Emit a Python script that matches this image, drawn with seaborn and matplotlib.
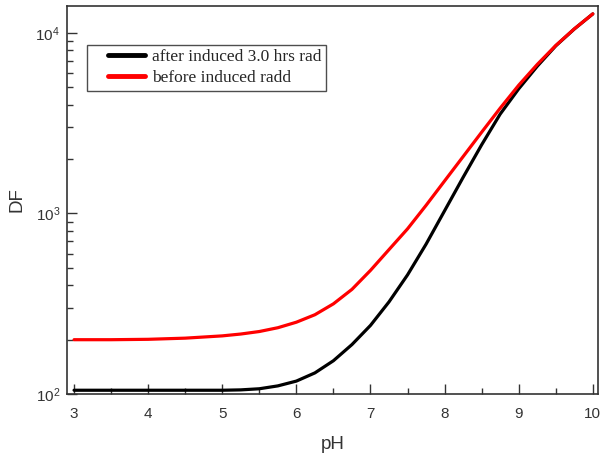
import numpy as np
import pandas as pd
import matplotlib
matplotlib.use("Agg")
import matplotlib.pyplot as plt
import seaborn as sns
from matplotlib.ticker import LogLocator, MultipleLocator, LogFormatterMathtext
from matplotlib.legend_handler import HandlerLine2D

ph = [3.0, 3.5, 4.0, 4.5, 5.0, 5.25, 5.5, 5.75, 6.0, 6.25, 6.5, 6.75, 7.0, 7.25,
      7.5, 7.75, 8.0, 8.25, 8.5, 8.75, 9.0, 9.25, 9.5, 9.75, 10.0]
df_after = [105, 105, 105, 105, 105, 105.5, 107, 111, 118, 131, 153, 188, 240, 324,
            457, 676, 1035, 1585, 2400, 3550, 4898, 6531, 8472, 10500, 12735]
df_before = [200, 200, 201, 204, 210, 215, 222, 233, 250, 275, 316, 380, 484, 631,
             822, 1109, 1514, 2065, 2818, 3828, 5129, 6683, 8511, 10520, 12735]
series_names = ["after induced 3.0 hrs rad", "before induced radd"]
series_colors = ["#000000", "#ff0000"]

data = pd.DataFrame({
    "pH": ph + ph,
    "DF": df_after + df_before,
    "series": [series_names[0]] * len(ph) + [series_names[1]] * len(ph),
})

sns.set_style("ticks")
plt.rcParams["font.family"] = ["Liberation Sans", "DejaVu Sans"]

fig = plt.figure(figsize=(6.01, 4.54), dpi=100)
ax = fig.add_axes([0.1115, 0.132, 0.8835, 0.855])

sns.lineplot(data=data, x="pH", y="DF", hue="series",
             palette=dict(zip(series_names, series_colors)),
             linewidth=2.3, ax=ax, legend=True)

ax.set_yscale("log")
ax.set_xlim(2.905, 10.07)
ax.set_ylim(100, 14100)

ax.xaxis.set_major_locator(MultipleLocator(1))
ax.xaxis.set_minor_locator(MultipleLocator(0.5))
ax.yaxis.set_major_locator(LogLocator(base=10, numticks=10))
ax.yaxis.set_minor_locator(LogLocator(base=10, subs=np.arange(2, 10), numticks=20))
ax.yaxis.set_major_formatter(LogFormatterMathtext())

ax.tick_params(axis="both", which="major", direction="in", length=7, width=1,
               labelsize=11, labelcolor="#333333", color="#333333")
ax.tick_params(axis="both", which="minor", direction="in", length=4, width=1,
               color="#333333")
ax.tick_params(axis="x", which="major", pad=9)
ax.tick_params(axis="y", which="major", pad=5)

for s in ax.spines.values():
    s.set_color("#333333")
    s.set_linewidth(1.2)

ax.set_xlabel("pH", fontsize=13.5, color="#333333", labelpad=11)
ax.set_ylabel("DF", fontsize=13.5, color="#333333", labelpad=7)


class OffsetLineHandler(HandlerLine2D):
    def create_artists(self, legend, orig_handle, xdescent, ydescent, width,
                       height, fontsize, trans):
        off = 12
        return super().create_artists(legend, orig_handle, xdescent - off,
                                      ydescent, width - off, height,
                                      fontsize, trans)


handles, labels = ax.get_legend_handles_labels()
leg = ax.legend(handles, labels, loc="upper left",
                bbox_to_anchor=(0.0377, 0.8995), borderaxespad=0,
                frameon=True, fancybox=False, edgecolor="#222222",
                prop={"family": "Liberation Serif", "size": 12.5},
                handlelength=3.1, borderpad=0.25, labelspacing=0.28,
                handletextpad=0.4,
                handler_map={h: OffsetLineHandler() for h in handles})
leg.get_frame().set_linewidth(1.0)
for line in leg.get_lines():
    line.set_linewidth(3.5)

fig.savefig("out.png", dpi=100)
